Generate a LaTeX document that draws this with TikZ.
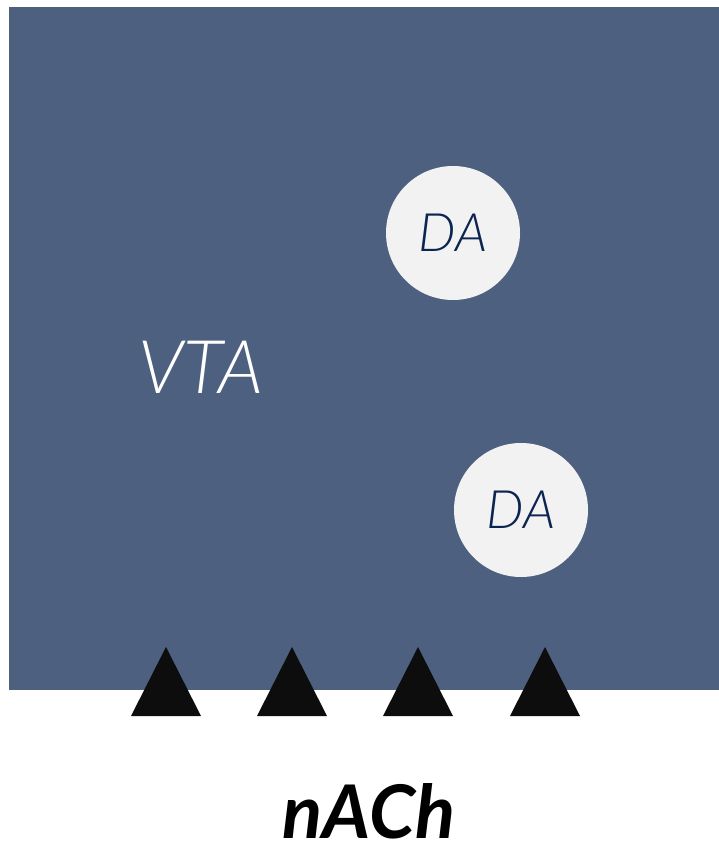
\documentclass[tikz,border=0pt]{standalone}
\usepackage{fontspec}
\setmainfont{Lato}
\newfontfamily\lightfont{Lato}[UprightFont=* Light, ItalicFont=* Light Italic]
\definecolor{vtablue}{HTML}{4D6080}
\definecolor{dacircle}{HTML}{F2F2F2}
\definecolor{datext}{HTML}{0B2550}
\definecolor{tri}{HTML}{0D0D0D}
\begin{document}
\begin{tikzpicture}[x=1pt,y=-1pt,
  dacell/.style={circle,fill=dacircle,draw=none,minimum size=134pt,inner sep=0pt,
    text=datext,font=\lightfont\itshape\fontsize{53}{60}\selectfont},
  receptor/.style={fill=tri,draw=none}]
\useasboundingbox (0,0) rectangle (719,842);
\fill[vtablue] (9,7) rectangle (719,690);
\node[text=white,font=\lightfont\itshape\fontsize{74}{80}\selectfont,inner sep=0pt,anchor=base] (vta) at (201,393) {VTA};
\node[dacell] (da1) at (453,233) {DA};
\node[dacell] (da2) at (521,510) {DA};
\foreach \cx in {166,292,418,545}{
  \fill[receptor] (\cx-35,716) -- (\cx,647) -- (\cx+35,716) -- cycle;
}
\node[font=\bfseries\itshape\fontsize{74}{80}\selectfont,inner sep=0pt,anchor=base] (nach) at (369,838) {nACh};
\end{tikzpicture}
\end{document}
